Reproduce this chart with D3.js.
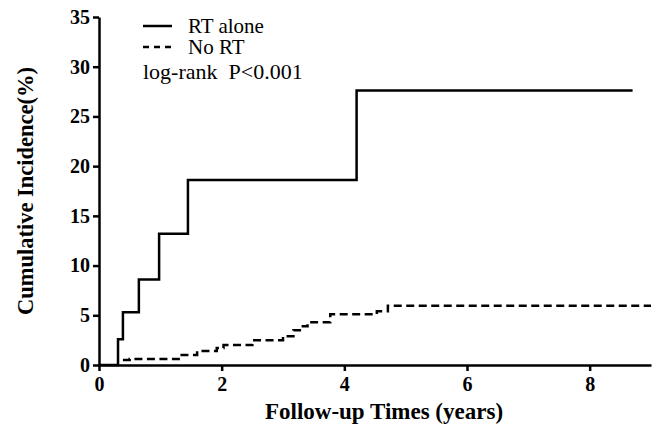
<!DOCTYPE html>
<html>
<head>
<meta charset="utf-8">
<script src="https://cdn.jsdelivr.net/npm/d3@7"></script>
<style>
  body { margin: 0; background: #fff; }
  svg { display: block; }
</style>
</head>
<body>
<svg id="chart"></svg>
<script>
const width = 663
const height = 435
const serif = 'Liberation Serif'

// step data: [time (years), cumulative incidence %]
const rtTimes  = [0, 0.31, 0.39, 0.65, 0.98, 1.45, 4.2, 8.7]
const rtValues = [0, 2.6, 5.3, 8.6, 13.2, 18.6, 27.6, 27.6]

const noRtTimes  = [0.39, 0.5, 1.32, 1.6, 1.92, 2.03, 2.5, 3.0, 3.17, 3.3, 3.4, 3.77, 4.53, 4.71, 9.0]
const noRtValues = [0.5, 0.6, 1.0, 1.4, 1.7, 2.0, 2.5, 2.9, 3.5, 3.9, 4.3, 5.1, 5.4, 5.95, 5.95]

const xTicks = [0, 2, 4, 6, 8]
const yTicks = [0, 5, 10, 15, 20, 25, 30, 35]

const margin = {top: 17, right: 12, bottom: 70, left: 99}

const svg = d3.select('#chart')
    .attr('width', width)
    .attr('height', height)
    .attr('font-family', serif)

const x = d3.scaleLinear()
    .domain([0, 9])
    .range([margin.left, width - margin.right])

const y = d3.scaleLinear()
    .domain([0, 35])
    .range([height - margin.bottom, margin.top])

const line = d3.line()
    .x(d => x(d[0]))
    .y(d => y(d[1]))
    .curve(d3.curveStepAfter)

const rt = rtTimes.map((t, i) => [t, rtValues[i]])
const noRt = noRtTimes.map((t, i) => [t, noRtValues[i]])

svg.append('path')
    .datum(noRt)
    .attr('d', line)
    .attr('fill', 'none')
    .attr('stroke', '#000')
    .attr('stroke-width', 2.5)
    .attr('stroke-dasharray', '8,4.5')

svg.append('path')
    .datum(rt)
    .attr('d', line)
    .attr('fill', 'none')
    .attr('stroke', '#000')
    .attr('stroke-width', 2.5)

// axes
const xAxis = svg.append('g')
    .attr('transform', `translate(0, ${y(0)})`)
    .call(d3.axisBottom(x).tickValues(xTicks).tickSize(6).tickSizeOuter(0).tickPadding(6))

const yAxis = svg.append('g')
    .attr('transform', `translate(${x(0)}, 0)`)
    .call(d3.axisLeft(y).tickValues(yTicks).tickSize(6).tickSizeOuter(0).tickPadding(3))

;[xAxis, yAxis].forEach(ax => {
    ax.attr('font-family', serif).attr('font-size', 20)
    ax.select('.domain').attr('stroke-width', 2.5)
    ax.selectAll('.tick line').attr('stroke-width', 2.5)
    ax.selectAll('.tick text')
        .attr('font-family', serif)
        .attr('font-weight', 'bold')
        .attr('font-size', 20)
        .attr('fill', '#000')
})

// axis titles
svg.append('text')
    .attr('x', 384)
    .attr('y', 419)
    .attr('text-anchor', 'middle')
    .attr('font-family', serif)
    .attr('font-weight', 'bold')
    .attr('font-size', 23)
    .text('Follow-up Times (years)')

svg.append('text')
    .attr('transform', `translate(33, ${(y(0) + y(35)) / 2}) rotate(-90)`)
    .attr('text-anchor', 'middle')
    .attr('font-family', serif)
    .attr('font-weight', 'bold')
    .attr('font-size', 22.5)
    .text('Cumulative Incidence(%)')

// legend
const legend = svg.append('g')
    .attr('font-family', serif)
const legendItems = [
    {label: 'RT alone', dash: null, y: 26},
    {label: 'No RT', dash: '6,5', y: 47}
]
legendItems.forEach(d => {
    legend.append('line')
        .attr('x1', 143).attr('x2', 172)
        .attr('y1', d.y).attr('y2', d.y)
        .attr('stroke', '#000')
        .attr('stroke-width', 2.5)
        .attr('stroke-dasharray', d.dash)
    legend.append('text')
        .attr('x', 188)
        .attr('y', d.y + 7)
        .attr('font-size', 21)
        .text(d.label)
})
legend.append('text')
    .attr('x', 143)
    .attr('y', 79)
    .attr('font-size', 22)
    .style('white-space', 'pre')
    .text('log-rank  P<0.001')
</script>
</body>
</html>
